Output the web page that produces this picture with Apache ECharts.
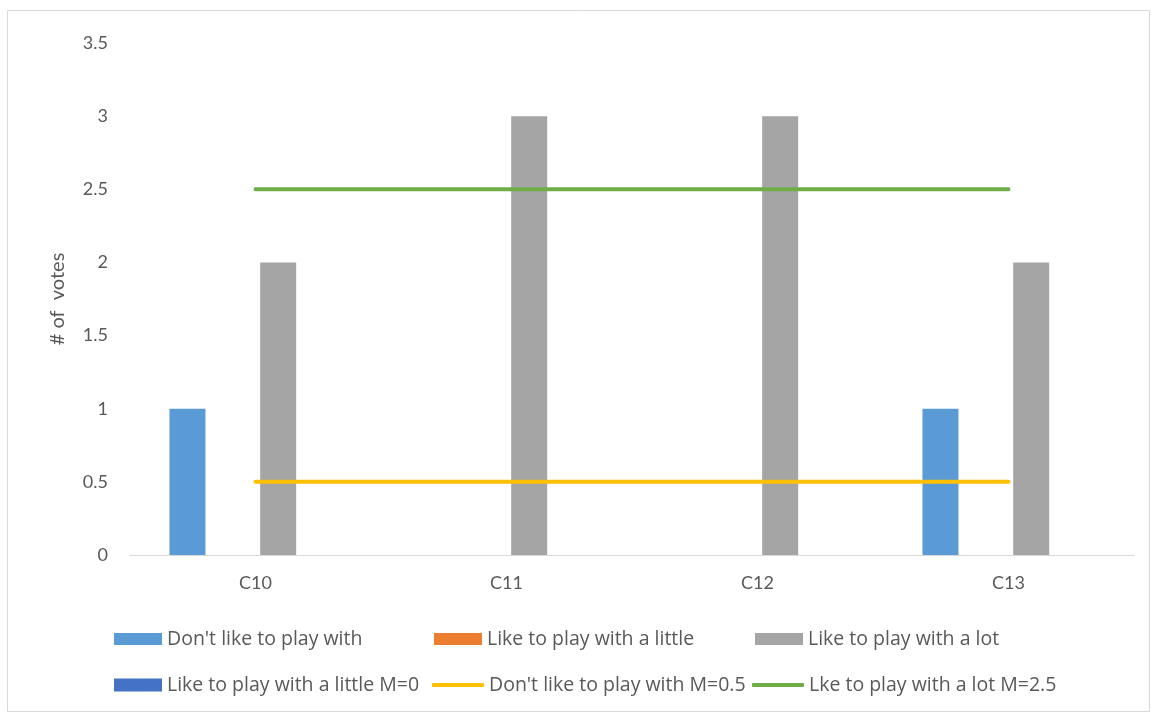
<!DOCTYPE html>
<html>
<head>
<meta charset="utf-8">
<script src="https://cdn.jsdelivr.net/npm/echarts@6/dist/echarts.min.js"></script>
<style>
  html, body { margin: 0; padding: 0; background: #fff; }
  #chart { width: 1156px; height: 717px; }
</style>
</head>
<body>
<div id="chart"></div>
<script>
const categories = ['C10', 'C11', 'C12', 'C13'];
const dontLike = [1, 0, 0, 1];
const likeLittle = [0, 0, 0, 0];
const likeLot = [2, 3, 3, 2];
const likeLittleMedian = [0, 0, 0, 0];
const dontLikeMedian = [0.5, 0.5, 0.5, 0.5];
const likeLotMedian = [2.5, 2.5, 2.5, 2.5];
const yTicks = [0, 0.5, 1, 1.5, 2, 2.5, 3, 3.5];

const FONT = 'Lato, "Open Sans", sans-serif';
const LEGEND_FONT = '"Open Sans", Lato, sans-serif';
const TXT = '#595959';

const names = {
  dl: "Don't like to play with",
  ll: 'Like to play with a little',
  lt: 'Like to play with a lot',
  llm: 'Like to play with a little M=0',
  dlm: "Don't like to play with M=0.5",
  ltm: 'Lke to play with a lot M=2.5'
};

// one legend block per entry so each can sit at its own spot
function legendAt(name, left, top, w, h, icon) {
  return {
    data: [name], left: left, top: top, itemWidth: w, itemHeight: h,
    icon: icon, itemGap: 0, padding: 0,
    textStyle: { color: TXT, fontSize: 19.5, fontFamily: LEGEND_FONT, padding: 0 },
    selectedMode: false
  };
}

const chart = echarts.init(document.getElementById('chart'));
chart.setOption({
  animation: false,
  backgroundColor: '#fff',
  graphic: [{
    type: 'rect', shape: { x: 7.5, y: 10.5, width: 1142, height: 701 },
    style: { fill: 'none', stroke: '#d9d9d9', lineWidth: 1 }, silent: true
  }],
  grid: { left: 130, right: 22, top: 43, bottom: 162 },
  xAxis: {
    type: 'category', data: categories,
    axisLine: { lineStyle: { color: '#d9d9d9', width: 1 } },
    axisTick: { show: false },
    axisLabel: { color: TXT, fontSize: 18, fontFamily: FONT, margin: 19 }
  },
  yAxis: {
    type: 'value', min: yTicks[0], max: yTicks[yTicks.length - 1], interval: 0.5,
    name: '# of  votes', nameLocation: 'middle', nameGap: 62, nameRotate: 90,
    nameTextStyle: { color: TXT, fontSize: 20, fontFamily: FONT },
    axisLine: { show: false }, axisTick: { show: false }, splitLine: { show: false },
    axisLabel: { color: TXT, fontSize: 18, fontFamily: FONT, margin: 22 }
  },
  legend: [
    legendAt(names.dl, 114, 629, 48, 12, 'rect'),
    legendAt(names.ll, 434, 629, 48, 12, 'rect'),
    legendAt(names.lt, 755, 629, 48, 12, 'rect'),
    legendAt(names.llm, 114, 675, 48, 13, 'rect'),
    legendAt(names.dlm, 432, 675, 52, 4, 'roundRect'),
    legendAt(names.ltm, 752, 675, 52, 4, 'roundRect')
  ],
  series: [
    { name: names.dl, type: 'bar', data: dontLike, barWidth: 36, barGap: '26%', barCategoryGap: '31%', itemStyle: { color: '#5B9BD5' } },
    { name: names.ll, type: 'bar', data: likeLittle, barWidth: 36, itemStyle: { color: '#ED7D31' } },
    { name: names.lt, type: 'bar', data: likeLot, barWidth: 36, itemStyle: { color: '#A5A5A5' } },
    { name: names.llm, type: 'bar', data: likeLittleMedian, barWidth: 36, itemStyle: { color: '#4472C4' } },
    { name: names.dlm, type: 'line', data: dontLikeMedian, symbol: 'none', z: 5,
      lineStyle: { color: '#FFC000', width: 4, cap: 'round' }, itemStyle: { color: '#FFC000' } },
    { name: names.ltm, type: 'line', data: likeLotMedian, symbol: 'none', z: 5,
      lineStyle: { color: '#70AD47', width: 4, cap: 'round' }, itemStyle: { color: '#70AD47' } }
  ]
});
</script>
</body>
</html>
